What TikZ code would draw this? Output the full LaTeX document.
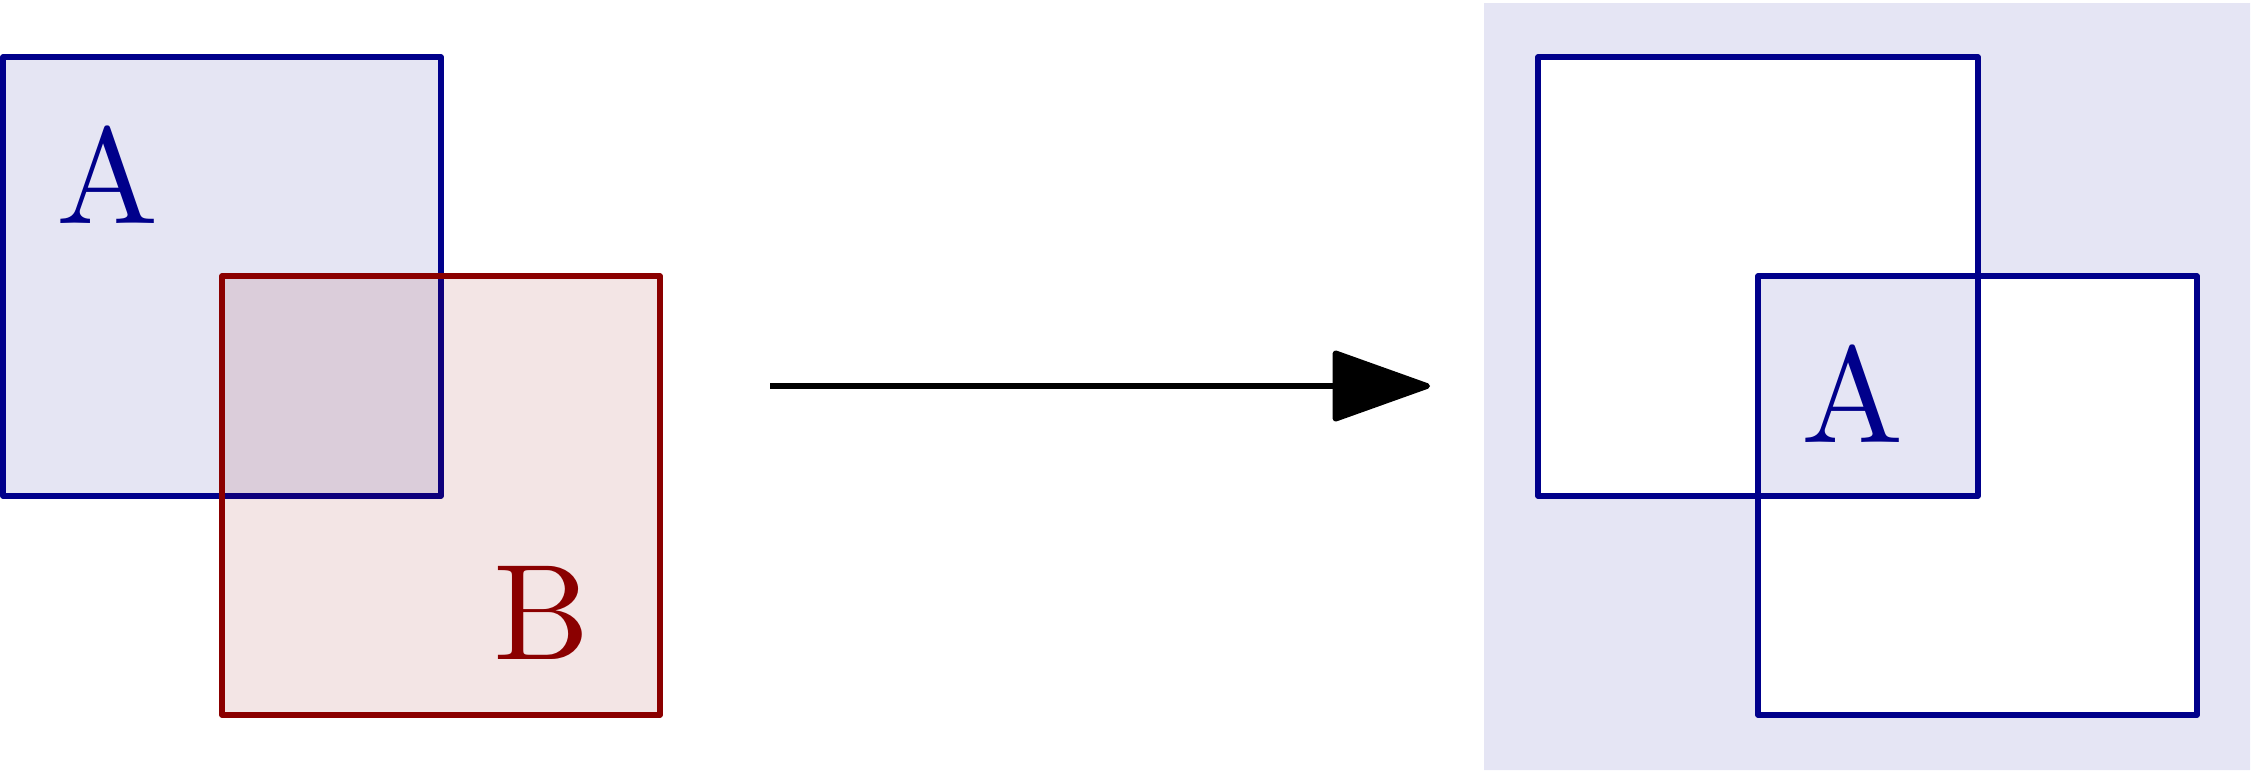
\documentclass[tikz,border=0pt]{standalone}
\usetikzlibrary{arrows.meta}
\definecolor{navy}{RGB}{0,0,139}
\definecolor{dred}{RGB}{139,0,0}
\begin{document}
\begin{tikzpicture}[
  sq/.style={line width=1.6pt, line join=round},
  lbl/.style={inner sep=0pt, scale=3.88, font=\normalsize},
]
\useasboundingbox (0,0) rectangle (22.52,-7.73);
% left
\draw[sq, draw=navy, fill=navy!10] (0.03,-0.57) rectangle (4.41,-4.96);
\draw[sq, draw=dred, fill=dred, fill opacity=0.1] (2.22,-2.76) rectangle (6.60,-7.15);
\node[lbl, text=navy] (la) at (1.08,-1.75) {A};
\node[lbl, text=dred] (lb) at (5.42,-6.13) {B};
% arrow
\coordinate (as) at (7.70,-3.86);
\coordinate (ae) at (14.30,-3.86);
\draw[line width=1.6pt, -{Triangle[length=1.03cm, width=0.72cm, round]}] (as) -- (ae);
% right
\fill[navy!10, even odd rule] (14.84,-0.03) rectangle (22.50,-7.70)
  (15.38,-0.57) rectangle (19.78,-4.96)
  (17.58,-2.76) rectangle (21.97,-7.15);
\draw[sq, draw=navy] (15.38,-0.57) rectangle (19.78,-4.96);
\draw[sq, draw=navy] (17.58,-2.76) rectangle (21.97,-7.15);
\node[lbl, text=navy] (ra) at (18.53,-3.94) {A};
\end{tikzpicture}
\end{document}
